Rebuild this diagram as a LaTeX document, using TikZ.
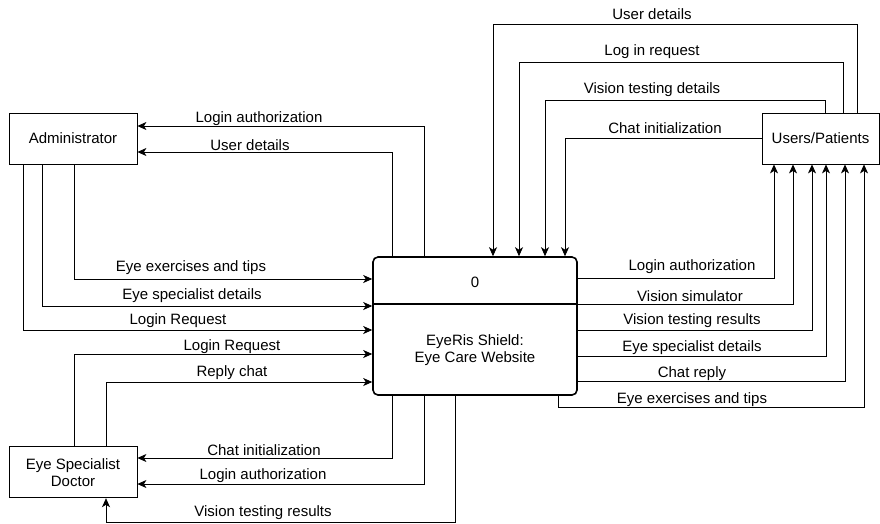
\documentclass[tikz,border=0pt]{standalone}
\usepackage{fontspec}
\setmainfont{Liberation Sans}
\usetikzlibrary{arrows.meta}
\usetikzlibrary{positioning}
\tikzstyle{entity} = [rectangle,draw=black,line width=0.8pt,minimum width=128pt,minimum height=51pt,inner sep=2pt,align=center,font=\fontsize{15}{17}\selectfont]
\tikzstyle{process} = [rectangle,draw=black,line width=1.6pt,rounded corners=5pt,minimum width=204pt,minimum height=138pt]
\tikzstyle{lbl} = [inner sep=0pt,align=center,font=\fontsize{15}{17}\selectfont]

\begin{document}
\begin{tikzpicture}[x=1pt,y=-1pt, flow/.style={draw=black,line width=0.8pt,-{Stealth[length=9pt,width=8pt,inset=2.5pt]}}]
\useasboundingbox (0,0) rectangle (880,523);

% Define nodes
\node[process]                          (web)     at (475,326)   {};
\node[lbl]                              (webid)   at (475,282)   {0};
\node[lbl]                              (webname) at (475,350)   {EyeRis Shield:\\Eye Care Website};
\node[entity]                           (admin)   at (73,138.5)  {Administrator};
\node[entity, minimum width=117pt]      (users)   at (820.5,138.5) {Users/Patients};
\node[entity, below = 282pt of admin]   (doctor)  {Eye Specialist\\Doctor};

\draw[line width=1.2pt] (web.west |- 0,304) -- (web.east |- 0,304);

% Edges
% administrator
\draw[flow] (web.north -| 424,0) |- (admin.east |- 0,126);
\draw[flow] (web.north -| 392,0) |- (admin.east |- 0,152);
\draw[flow] (admin.south -| 74,0) |- (web.west |- 0,279);
\draw[flow] (admin.south -| 42,0) |- (web.west |- 0,306);
\draw[flow] (admin.south -| 23,0) |- (web.west |- 0,330);

% doctor
\draw[flow] (doctor.north -| 74,0) |- (web.west |- 0,354);
\draw[flow] (doctor.north -| 106,0) |- (web.west |- 0,382);
\draw[flow] (web.south -| 392,0) |- (doctor.east |- 0,458);
\draw[flow] (web.south -| 424,0) |- (doctor.east |- 0,484);
\draw[flow] (web.south -| 455,0) -- (455,522) -| (doctor.south -| 106,0);

% users
\draw[flow] (users.north -| 857,0) -- (857,24) -| (web.north -| 493,0);
\draw[flow] (users.north -| 843,0) -- (843,62) -| (web.north -| 519,0);
\draw[flow] (users.north -| 825,0) -- (825,100) -| (web.north -| 545,0);
\draw[flow] (users.west) -| (web.north -| 565,0);
\draw[flow] (web.east |- 0,278) -| (users.south -| 774,0);
\draw[flow] (web.east |- 0,304) -| (users.south -| 793,0);
\draw[flow] (web.east |- 0,330) -| (users.south -| 812,0);
\draw[flow] (web.east |- 0,356) -| (users.south -| 826,0);
\draw[flow] (web.east |- 0,381) -| (users.south -| 845,0);
\draw[flow] (web.south -| 558,0) -- (558,407) -| (users.south -| 864,0);

% Labels
\node[lbl] (a1) at (259,119) {Login authorization};
\node[lbl] (a2) at (250,145) {User details};
\node[lbl] (a3) at (191,268) {Eye exercises and tips};
\node[lbl] (a4) at (192,296) {Eye specialist details};
\node[lbl] (a5) at (178,321) {Login Request};

\node[lbl] (d1) at (232,347) {Login Request};
\node[lbl] (d2) at (232,373) {Reply chat};
\node[lbl] (d3) at (264,450) {Chat initialization};
\node[lbl] (d4) at (263,476) {Login authorization};
\node[lbl] (d5) at (263,513) {Vision testing results};

\node[lbl] (u1) at (652,14)  {User details};
\node[lbl] (u2) at (652,52)  {Log in request};
\node[lbl] (u3) at (652,90)  {Vision testing details};
\node[lbl] (u4) at (665,128) {Chat initialization};
\node[lbl] (u5) at (692,267) {Login authorization};
\node[lbl] (u6) at (690,296) {Vision simulator};
\node[lbl] (u7) at (692,321) {Vision testing results};
\node[lbl] (u8) at (692,348) {Eye specialist details};
\node[lbl] (u9) at (692,374) {Chat reply};
\node[lbl] (u10) at (692,400) {Eye exercises and tips};
\end{tikzpicture}
\end{document}
